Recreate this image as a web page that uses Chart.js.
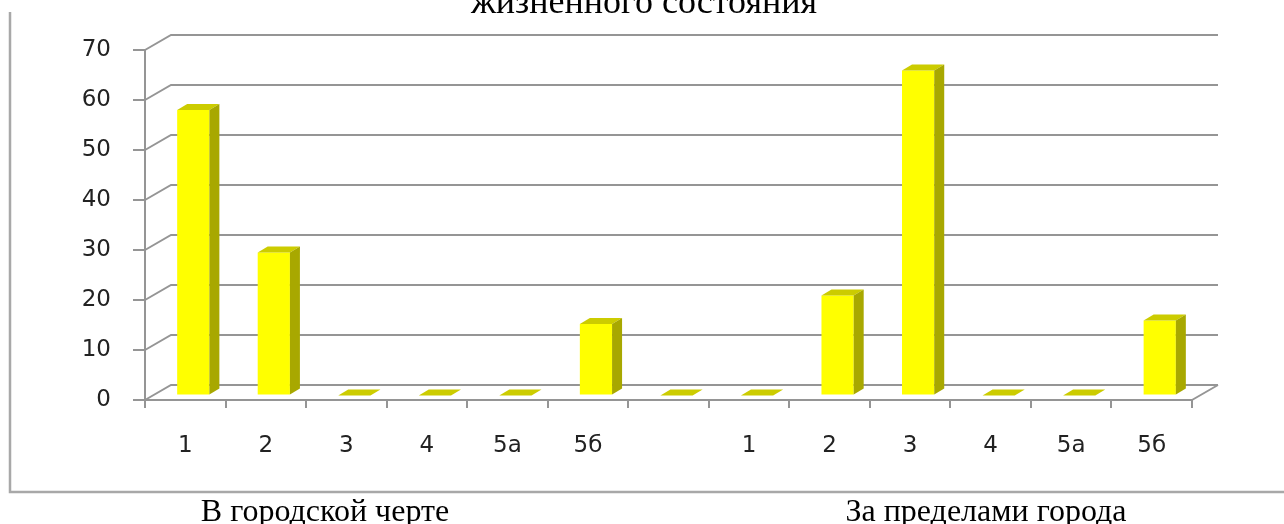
<!DOCTYPE html>
<html>
<head>
<meta charset="utf-8">
<script src="https://cdn.jsdelivr.net/npm/chart.js@4"></script>
<style>
  html, body { margin: 0; padding: 0; background: #fff; overflow: hidden; }
  #wrap { position: relative; width: 1284px; height: 524px; }
</style>
</head>
<body>
<div id="wrap"><canvas id="c" width="1284" height="524"></canvas></div>
<script>
// Categories of tree condition, two site groups separated by an empty slot
const categories = ['1', '2', '3', '4', '5а', '5б', '', '1', '2', '3', '4', '5а', '5б'];
// Share of trees, %
const shares = [57.1, 28.6, 0, 0, 0, 14.3, 0, 0, 20, 65, 0, 0, 15];
const yTicks = [0, 10, 20, 30, 40, 50, 60, 70];
const groupLabels = ['В городской черте', 'За пределами города'];
const titleLine = 'жизненного состояния';

// pseudo-3D geometry
const WALL = { dx: 26, dy: -15 };     // back wall offset from the front plane
const BAR_SHIFT = { dx: 8, dy: -4.5 }; // where the bar fronts sit inside the box
const BAR_DEPTH = { dx: 10, dy: -6 };  // visible depth of each bar

const GRID = '#959595';
const FRONT = '#ffff00';
const TOP = '#cccc00';
const SIDE = '#a8a800';

Chart.defaults.font.family = '"DejaVu Sans", Verdana, sans-serif';

const box3d = {
  id: 'box3d',
  beforeDraw(chart) {
    const ctx = chart.ctx;
    ctx.save();
    // outer frame (left and bottom edges)
    ctx.strokeStyle = '#a8a8a8';
    ctx.lineWidth = 2.5;
    ctx.beginPath();
    ctx.moveTo(10, 12);
    ctx.lineTo(10, 492);
    ctx.lineTo(1284, 492);
    ctx.stroke();
    ctx.restore();
  },
  beforeDatasetsDraw(chart) {
    const { ctx, chartArea: a, scales: { y } } = chart;
    ctx.save();
    ctx.strokeStyle = GRID;
    ctx.lineWidth = 2;
    ctx.beginPath();
    yTicks.forEach(v => {
      const py = y.getPixelForValue(v);
      ctx.moveTo(a.left, py);
      ctx.lineTo(a.left + WALL.dx, py + WALL.dy);
      ctx.lineTo(a.right + WALL.dx, py + WALL.dy);
    });
    // right edge of the floor
    const p0 = y.getPixelForValue(0);
    ctx.moveTo(a.right, p0);
    ctx.lineTo(a.right + WALL.dx, p0 + WALL.dy);
    ctx.stroke();
    ctx.restore();
  },
  beforeDatasetDraw(chart) {
    chart.ctx.save();
    chart.ctx.translate(BAR_SHIFT.dx, BAR_SHIFT.dy);
  },
  afterDatasetDraw(chart, args) {
    const ctx = chart.ctx;
    args.meta.data.forEach(bar => {
      const { x, y, base, width } = bar.getProps(['x', 'y', 'base', 'width'], true);
      const x1 = x - width / 2, x2 = x + width / 2;
      const top = Math.min(y, base);
      // top face
      ctx.fillStyle = TOP;
      ctx.beginPath();
      ctx.moveTo(x1, top);
      ctx.lineTo(x2, top);
      ctx.lineTo(x2 + BAR_DEPTH.dx, top + BAR_DEPTH.dy);
      ctx.lineTo(x1 + BAR_DEPTH.dx, top + BAR_DEPTH.dy);
      ctx.closePath();
      ctx.fill();
      // side face
      if (base - top > 0.5) {
        ctx.fillStyle = SIDE;
        ctx.beginPath();
        ctx.moveTo(x2, top);
        ctx.lineTo(x2 + BAR_DEPTH.dx, top + BAR_DEPTH.dy);
        ctx.lineTo(x2 + BAR_DEPTH.dx, base + BAR_DEPTH.dy);
        ctx.lineTo(x2, base);
        ctx.closePath();
        ctx.fill();
      }
    });
    ctx.restore();
  },
  afterDraw(chart) {
    const ctx = chart.ctx;
    ctx.save();
    ctx.fillStyle = '#000';
    ctx.textAlign = 'center';
    ctx.textBaseline = 'alphabetic';
    ctx.font = '36px "Liberation Serif", "Times New Roman", serif';
    ctx.fillText(titleLine, 644, 13);
    ctx.font = '32px "Liberation Serif", "Times New Roman", serif';
    ctx.fillText(groupLabels[0], 325, 521);
    ctx.fillText(groupLabels[1], 986, 521);
    ctx.restore();
  }
};

new Chart(document.getElementById('c'), {
  type: 'bar',
  data: {
    labels: categories,
    datasets: [{
      data: shares,
      backgroundColor: FRONT,
      borderWidth: 0,
      categoryPercentage: 1,
      barPercentage: 0.4
    }]
  },
  options: {
    responsive: false,
    animation: false,
    devicePixelRatio: 1,
    layout: { padding: { top: 50, right: 92, left: 0, bottom: 0 } },
    plugins: { legend: { display: false }, tooltip: { enabled: false }, title: { display: false } },
    scales: {
      x: {
        grid: { drawOnChartArea: false, drawTicks: true, tickLength: 8, color: GRID, lineWidth: 2, offset: true },
        border: { display: true, color: GRID, width: 2 },
        ticks: { color: '#222', font: { size: 23 }, padding: 24, maxRotation: 0, autoSkip: false },
        afterFit(s) { s.height = 124; }
      },
      y: {
        min: 0,
        max: 70,
        afterBuildTicks(s) { s.ticks = yTicks.map(v => ({ value: v })); },
        grid: { drawOnChartArea: false, drawTicks: true, tickLength: 12, color: GRID, lineWidth: 2 },
        border: { display: true, color: GRID, width: 2 },
        ticks: { color: '#222', font: { size: 23 }, padding: 22 },
        afterFit(s) { s.width = 145; }
      }
    }
  },
  plugins: [box3d]
});
</script>
</body>
</html>
